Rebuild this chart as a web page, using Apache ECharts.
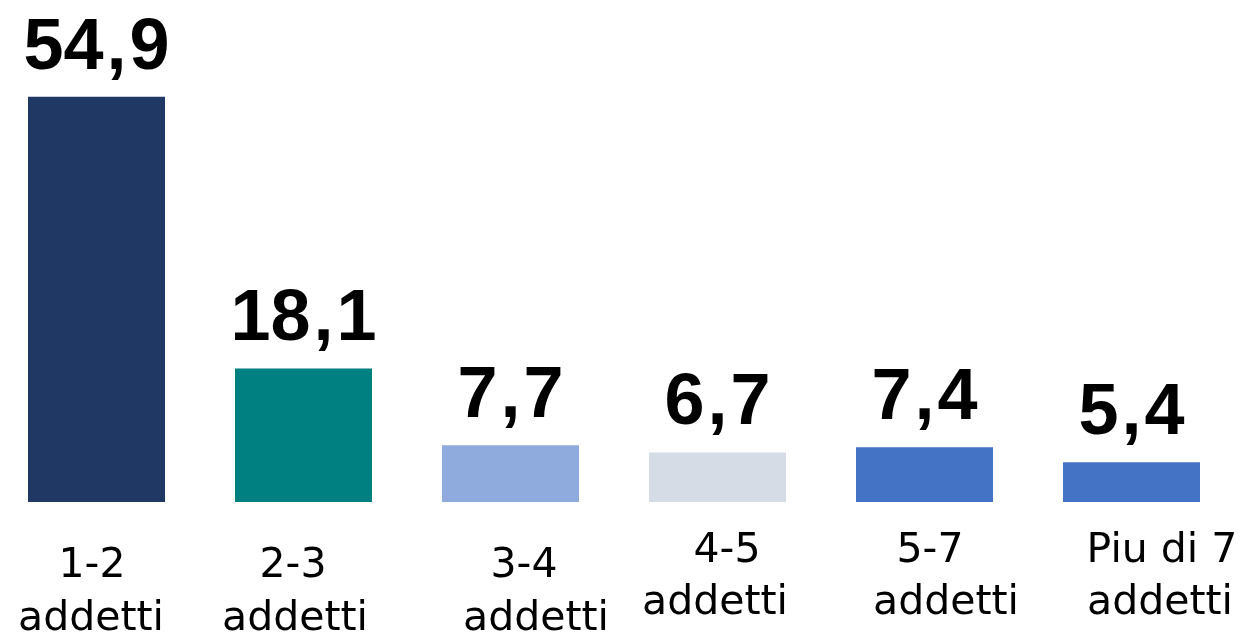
<!DOCTYPE html>
<html>
<head>
<meta charset="utf-8">
<script src="https://cdn.jsdelivr.net/npm/echarts@6/dist/echarts.min.js"></script>
<style>
  html, body { margin: 0; padding: 0; background: #fff; }
  #chart { width: 1243px; height: 632px; }
</style>
</head>
<body>
<div id="chart"></div>
<script>
// dati
const rangeLabels = ['1-2', '2-3', '3-4', '4-5', '5-7', 'Piu di 7'];
const unitLabel = 'addetti';
const values = [54.9, 18.1, 7.7, 6.7, 7.4, 5.4];
const barColors = ['#1F3864', '#008080', '#8FAADC', '#D6DCE5', '#4472C4', '#4472C4'];

const categories = rangeLabels.map(r => r + '\n' + unitLabel);

// spostamenti delle etichette (come nell'originale)
const shiftTop = [-4.5, -10.5, 13.5, 9.5, 5.5, 30.5];
const shiftBottom = [-5.5, -8.5, 25.5, -2.5, 21.5, 28.5];
const lowered = [true, true, true, false, false, false];

const pad = d => d >= 0 ? [0, 0, 0, 2 * d] : [0, -2 * d, 0, 0];

const rich = {};
categories.forEach((c, i) => {
  rich['t' + i] = {
    fontFamily: 'DejaVu Sans', fontSize: 41, color: '#000',
    lineHeight: lowered[i] ? 82 : 52, padding: pad(shiftTop[i])
  };
  rich['b' + i] = {
    fontFamily: 'DejaVu Sans', fontSize: 41, color: '#000',
    lineHeight: lowered[i] ? 24 : 52, padding: pad(shiftBottom[i])
  };
});

const valueFont = { fontFamily: 'Liberation Sans', fontSize: 72, fontWeight: 'bold', color: '#000' };

const chart = echarts.init(document.getElementById('chart'));
chart.setOption({
  backgroundColor: '#fff',
  animation: false,
  grid: { left: -7, top: 0, width: 1242, height: 502, containLabel: false, outerBoundsMode: 'none' },
  xAxis: {
    type: 'category',
    data: categories,
    axisLine: { show: false },
    axisTick: { show: false },
    axisLabel: {
      interval: 0,
      margin: 23,
      formatter: (val, idx) => {
        const parts = val.split('\n');
        return '{t' + idx + '|' + parts[0] + '}\n{b' + idx + '|' + parts[1] + '}';
      },
      rich: rich
    }
  },
  yAxis: {
    type: 'value',
    min: 0,
    max: 68,
    show: false,
    splitLine: { show: false }
  },
  series: [{
    type: 'bar',
    barWidth: 137,
    data: values.map((v, i) => ({ value: v, itemStyle: { color: barColors[i] } })),
    label: {
      show: true,
      position: 'top',
      distance: 12,
      ...valueFont,
      formatter: p => {
        const parts = String(p.value).split('.');
        return '{n|' + parts[0] + '}{c|,}{n|' + parts[1] + '}';
      },
      rich: {
        n: { ...valueFont },
        c: { ...valueFont, padding: [0, 3, 0, 3] }
      }
    }
  }]
});
</script>
</body>
</html>
